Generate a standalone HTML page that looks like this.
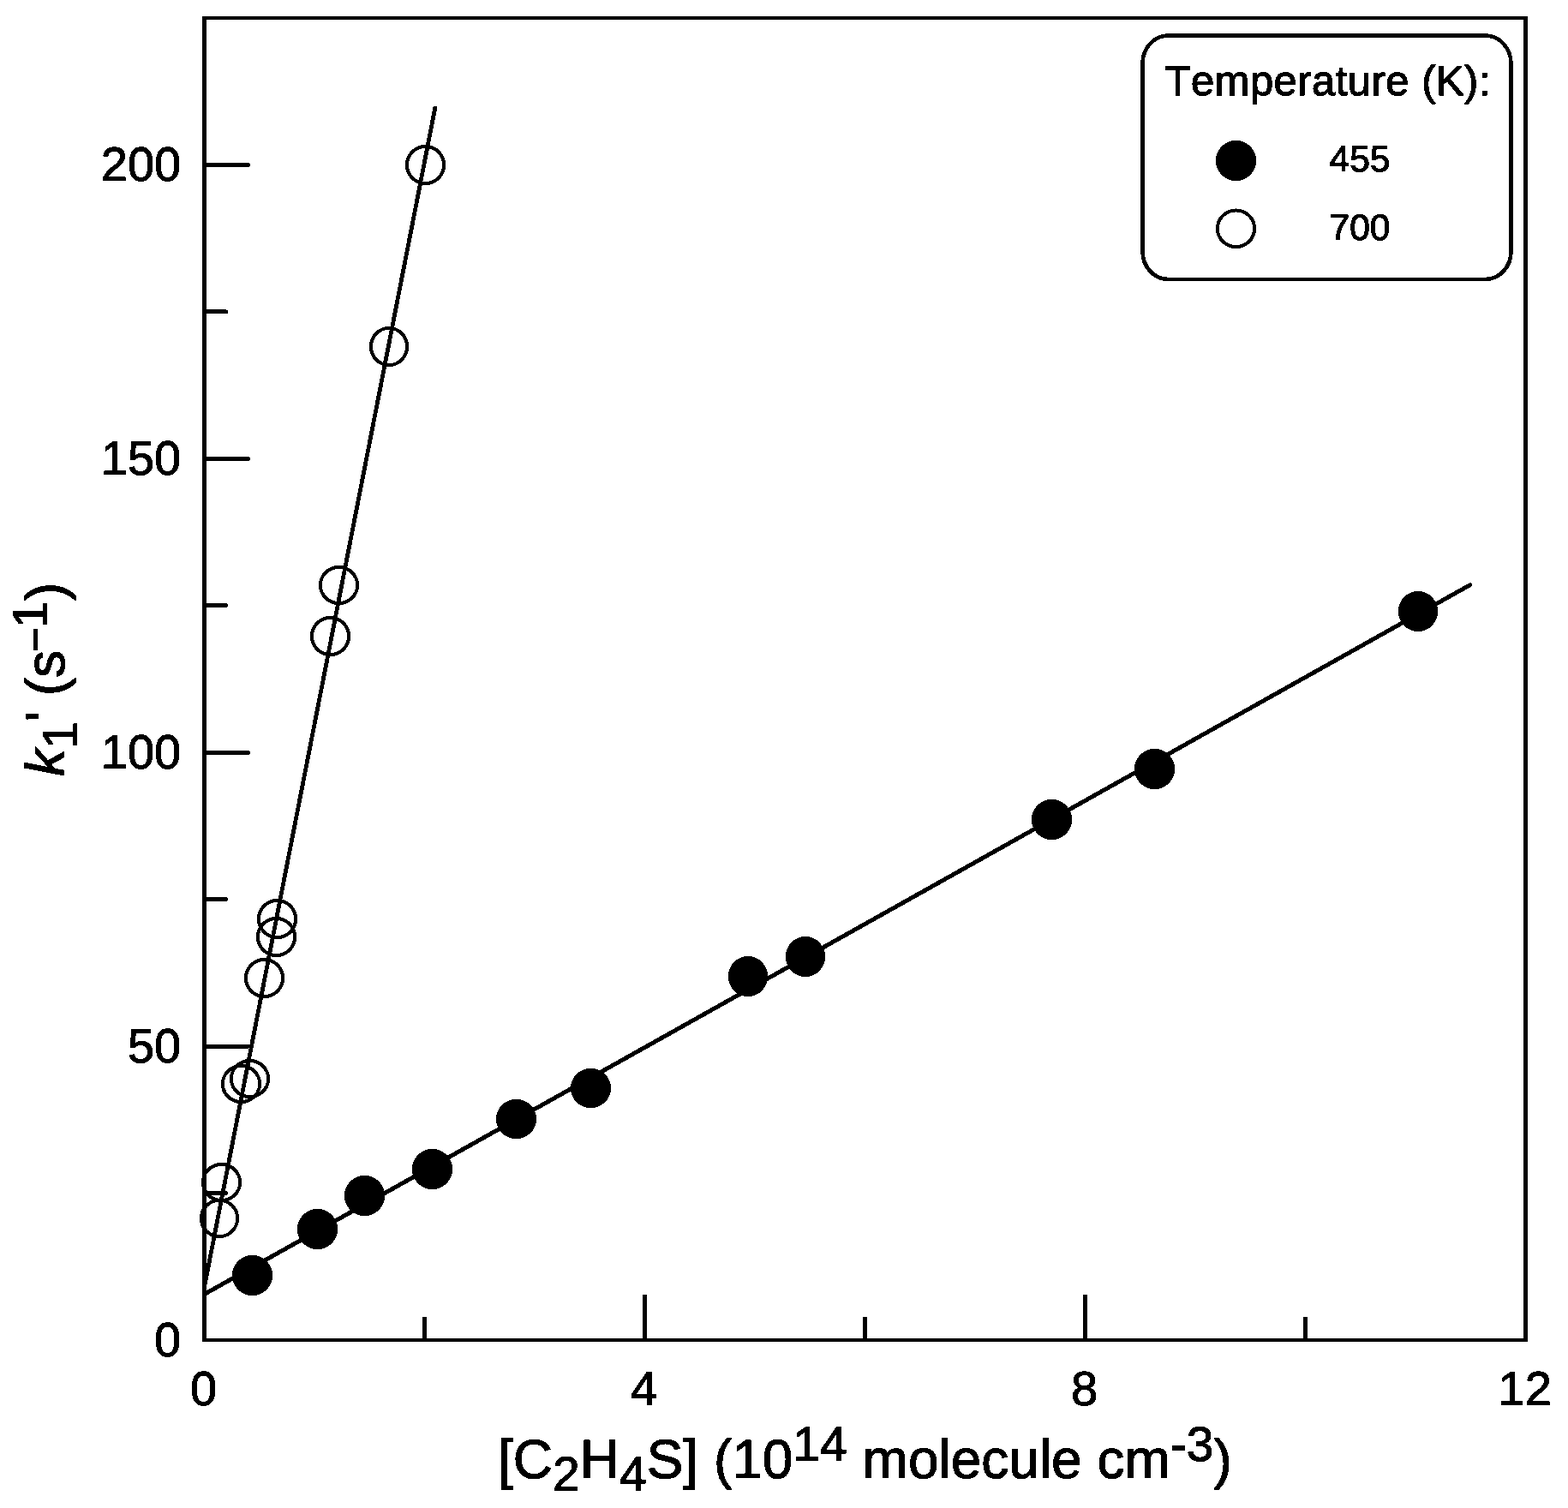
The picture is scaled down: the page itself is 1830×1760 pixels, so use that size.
<!DOCTYPE html>
<html lang="en"><head><meta charset="utf-8"><title>k1' vs [C2H4S]</title>
<style>
html,body{margin:0;padding:0;background:#fff;}
body{width:1830px;height:1760px;overflow:hidden;}
svg{display:block;}
text{font-family:"Liberation Sans",sans-serif;fill:#000;stroke:#000;stroke-width:0.6px;stroke-linejoin:miter;stroke-miterlimit:2;font-kerning:none;text-rendering:geometricPrecision;filter:url(#bin);}
.tk{font-size:56px;stroke-width:1.1px;}
.ax{font-size:64px;stroke-width:1.2px;}
.ss{font-size:57px;}
.lt{font-size:49px;letter-spacing:0.46px;stroke-width:1.3px;}
.li{font-size:42.5px;stroke-width:1.2px;}
</style></head><body>
<svg width="1830" height="1760" viewBox="0 0 1830 1760">
<defs><filter id="bin" x="-10%" y="-10%" width="120%" height="120%" color-interpolation-filters="sRGB"><feComponentTransfer><feFuncA type="discrete" tableValues="0 1"/></feComponentTransfer></filter></defs>
<rect x="0" y="0" width="1830" height="1760" fill="#fff"/>
<g shape-rendering="crispEdges" fill="#000" stroke="none">
<rect x="236" y="19" width="5" height="1547"/>
<rect x="1778" y="19" width="5" height="1547"/>
<rect x="236" y="19" width="1547" height="4"/>
<rect x="236" y="1562" width="1547" height="4"/>
</g>
<g shape-rendering="crispEdges" fill="none" stroke="#000" stroke-width="5" stroke-linecap="round">
<line x1="238.5" y1="1392.56" x2="263.5" y2="1392.56"/>
<line x1="238.5" y1="1221.12" x2="289.5" y2="1221.12"/>
<line x1="238.5" y1="1049.69" x2="263.5" y2="1049.69"/>
<line x1="238.5" y1="878.25" x2="289.5" y2="878.25"/>
<line x1="238.5" y1="706.81" x2="263.5" y2="706.81"/>
<line x1="238.5" y1="535.38" x2="289.5" y2="535.38"/>
<line x1="238.5" y1="363.94" x2="263.5" y2="363.94"/>
<line x1="238.5" y1="192.50" x2="289.5" y2="192.50"/>
<line x1="495.50" y1="1564" x2="495.50" y2="1539"/>
<line x1="752.50" y1="1564" x2="752.50" y2="1513"/>
<line x1="1009.50" y1="1564" x2="1009.50" y2="1539"/>
<line x1="1266.50" y1="1564" x2="1266.50" y2="1513"/>
<line x1="1523.50" y1="1564" x2="1523.50" y2="1539"/>
</g>
<g shape-rendering="crispEdges" fill="none" stroke="#000" stroke-width="4.8" stroke-linecap="round">
<line stroke-width="5" x1="238.5" y1="1510.5" x2="1715.5" y2="682.8"/>
<line x1="238.5" y1="1502" x2="507.8" y2="126"/>
</g>
<g shape-rendering="crispEdges" fill="#000" stroke="none">
<ellipse cx="294.5" cy="1488.5" rx="23.6" ry="23.6"/>
<ellipse cx="370.5" cy="1434.5" rx="23.6" ry="23.6"/>
<ellipse cx="425.5" cy="1395.5" rx="23.6" ry="23.6"/>
<ellipse cx="504.5" cy="1364.5" rx="23.6" ry="23.6"/>
<ellipse cx="602.5" cy="1306" rx="23.6" ry="23.1"/>
<ellipse cx="689.5" cy="1270" rx="23.6" ry="23.1"/>
<ellipse cx="873" cy="1139.5" rx="23.1" ry="23.6"/>
<ellipse cx="940" cy="1116.5" rx="23.1" ry="23.6"/>
<ellipse cx="1227.5" cy="956.5" rx="23.6" ry="23.6"/>
<ellipse cx="1347.5" cy="897.5" rx="23.6" ry="23.6"/>
<ellipse cx="1655" cy="713.5" rx="23.1" ry="23.6"/>
<ellipse cx="1442.5" cy="187.5" rx="23.6" ry="23.6"/>
</g>
<g shape-rendering="crispEdges" fill="none" stroke="#000" stroke-width="4">
<ellipse cx="256" cy="1422" rx="21.1" ry="21.1"/>
<ellipse cx="258.5" cy="1380" rx="21.6" ry="21.1"/>
<ellipse cx="281.5" cy="1265" rx="21.6" ry="21.1"/>
<ellipse cx="291.5" cy="1259" rx="21.6" ry="21.1"/>
<ellipse cx="308.5" cy="1141.5" rx="21.6" ry="21.6"/>
<ellipse cx="322.5" cy="1093.5" rx="21.6" ry="21.6"/>
<ellipse cx="323.5" cy="1072.5" rx="21.6" ry="21.6"/>
<ellipse cx="385.5" cy="742.5" rx="21.6" ry="21.6"/>
<ellipse cx="395.5" cy="683" rx="21.6" ry="21.1"/>
<ellipse cx="454" cy="404.5" rx="21.1" ry="21.6"/>
<ellipse cx="496.5" cy="192.5" rx="21.6" ry="21.6"/>
<ellipse cx="1442.5" cy="266.8" rx="21.6" ry="21.3"/>
</g>
<rect shape-rendering="crispEdges" x="1333.5" y="41.5" width="430" height="284.5" rx="30" ry="32.5" fill="none" stroke="#000" stroke-width="4.6"/>
<text class="lt" x="1359.5" y="111.4">Temperature (K):</text>
<text class="li" x="1551.5" y="200.4">455</text>
<text class="li" x="1551.5" y="280.1">700</text>
<text class="tk" text-anchor="end" x="211.2" y="1582.60">0</text>
<text class="tk" text-anchor="end" x="211.2" y="1239.72">50</text>
<text class="tk" text-anchor="end" x="211.2" y="896.85">100</text>
<text class="tk" text-anchor="end" x="211.2" y="553.98">150</text>
<text class="tk" text-anchor="end" x="211.2" y="211.10">200</text>
<text class="tk" text-anchor="middle" x="237.70" y="1639.8">0</text>
<text class="tk" text-anchor="middle" x="751.70" y="1639.8">4</text>
<text class="tk" text-anchor="middle" x="1265.70" y="1639.8">8</text>
<text class="tk" text-anchor="middle" x="1779.70" y="1639.8">12</text>
<text class="ax" x="581" y="1725">[C<tspan class="ss" dy="14.8">2</tspan><tspan dy="-14.8">H</tspan><tspan class="ss" dy="14.8">4</tspan><tspan dy="-14.8">S] (10</tspan><tspan class="ss" dy="-19.6">14</tspan><tspan dy="19.6"> molecule cm</tspan><tspan class="ss" dy="-19.6">-3</tspan><tspan dy="19.6">)</tspan></text>
<text class="ax" transform="translate(75 906) rotate(-90)"><tspan font-style="italic">k</tspan><tspan class="ss" dy="14.8">1</tspan><tspan dy="-14.8">' (s</tspan><tspan style="font-size:50px" dx="-2" dy="-16.9">−</tspan><tspan class="ss" dx="-1.5" dy="-2.7">1</tspan><tspan dx="0.5" dy="19.6">)</tspan></text>
</svg>
</body></html>
